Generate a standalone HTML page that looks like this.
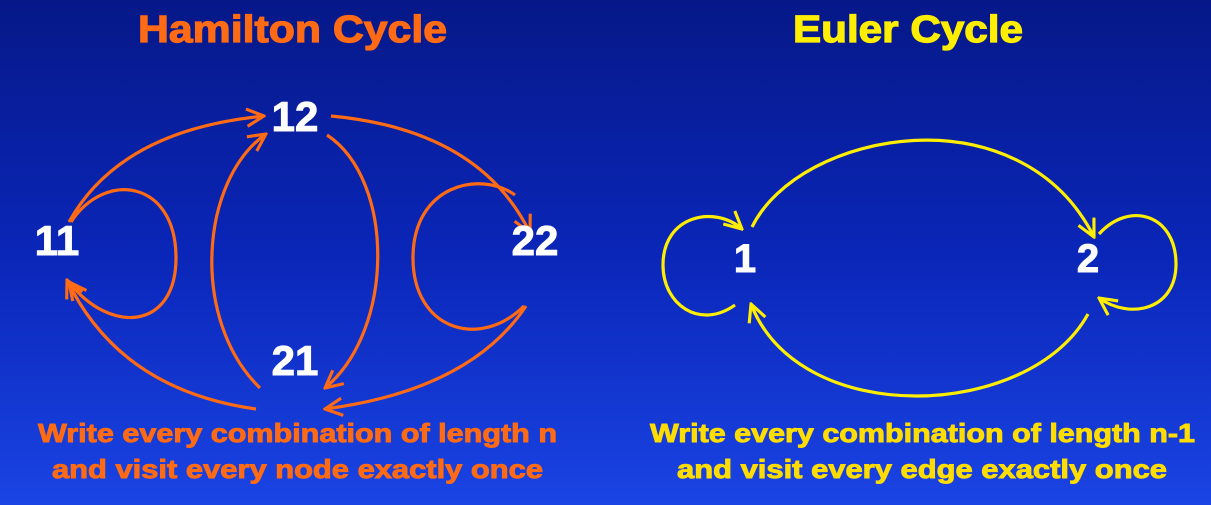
<!DOCTYPE html>
<html><head><meta charset="utf-8"><style>
html,body{margin:0;padding:0;width:1211px;height:505px;overflow:hidden}
body{background:linear-gradient(#061888 0%,#0a26b8 50%,#1a44e4 100%);font-family:"Liberation Sans",sans-serif}
svg{position:absolute;left:0;top:0}
</style></head><body>
<svg width="1211" height="505" viewBox="0 0 1211 505">
<defs>
<marker id="ao" viewBox="0 0 12 12" refX="11" refY="6" markerWidth="6.5" markerHeight="6.5" orient="auto" markerUnits="strokeWidth">
<polyline points="1,1 11,6 1,11" fill="none" stroke="#ff6a14" stroke-width="1.8"/></marker>
<marker id="ay" viewBox="0 0 12 12" refX="11" refY="6" markerWidth="6.5" markerHeight="6.5" orient="auto" markerUnits="strokeWidth">
<polyline points="1,1 11,6 1,11" fill="none" stroke="#ffee00" stroke-width="1.8"/></marker>
</defs>
<g font-weight="bold" stroke-width="1.2">
<text x="138" y="42" textLength="309" lengthAdjust="spacingAndGlyphs" font-size="38" fill="#ff6a14" stroke="#ff6a14">Hamilton Cycle</text>
<text x="793" y="42" textLength="230" lengthAdjust="spacingAndGlyphs" font-size="38" fill="#ffee00" stroke="#ffee00">Euler Cycle</text>
</g>

<g fill="none" stroke="#ff6a14" stroke-width="3.2">
<path d="M69,222 Q120,130 264,116" marker-end="url(#ao)"/>
<path d="M71,222 C105,170 176,180 176,258 C176,330 110,335 69,282" marker-end="url(#ao)"/>
<path d="M256,409 Q120,390 67,280" marker-end="url(#ao)"/>
<path d="M260,388 C190,320 200,180 266,134" marker-end="url(#ao)"/>
<path d="M327,135 C395,180 395,330 325,388" marker-end="url(#ao)"/>
<path d="M331,116 Q480,130 530,233" marker-end="url(#ao)"/>
<path d="M524,306 C480,350 413,330 413,258 C413,185 480,170 515,195"/>
<path d="M526,306 Q470,390 325,409" marker-end="url(#ao)"/>
</g>
<g font-size="42" font-weight="bold" fill="#fff" stroke="#fff" stroke-width="1" text-anchor="middle">
<text x="295" y="131">12</text>
<text x="57" y="255">11</text>
<text x="535" y="255">22</text>
<text x="295" y="375">21</text>
</g>

<g fill="none" stroke="#ffee00" stroke-width="3.2">
<path d="M752,227 C800,130 1020,90 1094,237" marker-end="url(#ay)"/>
<path d="M1088,314 C1030,420 800,430 751,304" marker-end="url(#ay)"/>
<path d="M735,305 C700,330 663,305 663,265 C663,215 715,205 742,229" marker-end="url(#ay)"/>
<path d="M1099,234 C1130,200 1176,215 1176,264 C1176,310 1130,320 1099,298" marker-end="url(#ay)"/>
</g>
<g font-size="40" font-weight="bold" fill="#fff" stroke="#fff" stroke-width="1" text-anchor="middle">
<text x="745" y="272">1</text>
<text x="1088" y="272">2</text>
</g>

<g font-size="26" font-weight="bold" stroke-width="0.9">
<text x="38" y="442" textLength="519" lengthAdjust="spacingAndGlyphs" fill="#ff6a14" stroke="#ff6a14">Write every combination of length n</text>
<text x="52" y="478" textLength="491" lengthAdjust="spacingAndGlyphs" fill="#ff6a14" stroke="#ff6a14">and visit every node exactly once</text>
<text x="650" y="442" textLength="545" lengthAdjust="spacingAndGlyphs" fill="#ffdd00" stroke="#ffdd00">Write every combination of length n-1</text>
<text x="677" y="478" textLength="490" lengthAdjust="spacingAndGlyphs" fill="#ffdd00" stroke="#ffdd00">and visit every edge exactly once</text>
</g>
</svg>
</body></html>
